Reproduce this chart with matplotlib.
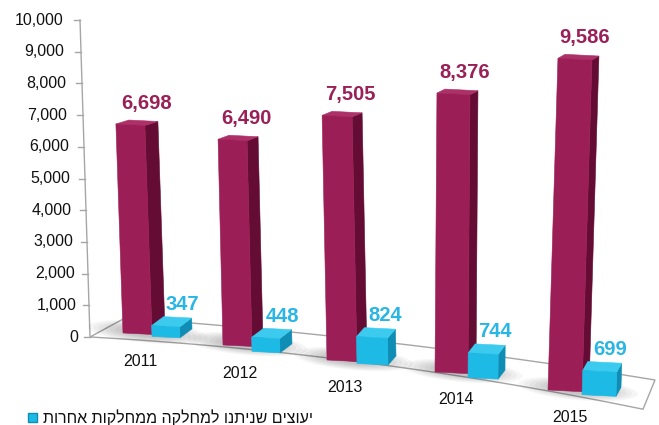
import numpy as np
import matplotlib
matplotlib.use("Agg")
import matplotlib.pyplot as plt
from matplotlib.patches import Polygon, Ellipse

plt.rcParams["font.family"] = ["Liberation Sans", "DejaVu Sans"]

# chart values
years = ["2011", "2012", "2013", "2014", "2015"]
consults_total = [6698, 6490, 7505, 8376, 9586]
consults_other = [347, 448, 824, 744, 699]
y_ticks = [0, 1000, 2000, 3000, 4000, 5000, 6000, 7000, 8000, 9000, 10000]
legend_label = "יעוצים שניתנו למחלקה ממחלקות אחרות"

# pseudo-3D scene layout (pixel space, y grows downwards)
base_x = [123, 223, 327, 435, 548]       # front-bottom-left of tall bar
base_y = [333, 345, 360, 372, 390]
px_per_unit = [0.0312, 0.0317, 0.0326, 0.0333, 0.0346]
lean = [-0.034, -0.024, -0.02, 0.007, 0.03]
tall_w = [29, 29, 30, 33, 34]
tall_dx = [13, 11, 10, 8, 7]
short_w = [28, 28, 31, 30, 34]
short_dx = [12, 12, 8, 7, 5]
short_drop = [2, 5, 2, 4, 3]

MAROON = ("#9b1e56", "#640c34", "#ad3068")
CYAN = ("#1dbae5", "#0f8db4", "#3ccbef")
MAROON_TXT = "#9a2058"
CYAN_TXT = "#2ab6e4"
GRID = "#a6a6a6"


def box(x0, y0, w, h, lean_k, dx, dy, slope=0.05):
    bl = np.array([x0, y0], float)
    br = bl + [w, w * slope]
    tl = bl + [h * lean_k, -h]
    tr = tl + [w, w * slope]
    d = np.array([dx, -dy], float)
    front = [bl, br, tr, tl]
    side = [br, br + d, tr + d, tr]
    top = [tl, tr, tr + d, tl + d]
    return front, side, top


def draw_box(ax, faces, colors):
    front, side, top = faces
    for pts, c in ((side, colors[1]), (top, colors[2]), (front, colors[0])):
        ax.add_patch(Polygon(pts, closed=True, facecolor=c, edgecolor=c,
                             linewidth=0.4, zorder=3))


fig = plt.figure(figsize=(6.59, 4.25), dpi=100)
ax = fig.add_axes([0, 0, 1, 1])
ax.set_xlim(0, 659)
ax.set_ylim(425, 0)
ax.axis("off")

# floor (slightly bowed outline)
xf = np.linspace(90, 643, 60)
front_edge = 337 + 0.0559 * (xf - 90) + 0.0001351 * (xf - 90) ** 2
xb = np.linspace(125, 655, 60)
back_edge = 318 + 0.0698 * (xb - 125) + 0.000089 * (xb - 125) ** 2
floor = np.vstack([np.column_stack([xf, front_edge]),
                   np.column_stack([xb[::-1], back_edge[::-1]])])
ax.add_patch(Polygon(floor, closed=True, facecolor="white", edgecolor=GRID,
                     linewidth=1.0, zorder=1))

# value axis
axis_top = (80, 337 - 10000 * 0.0317)
ax.plot([axis_top[0], 90], [axis_top[1], 337], color=GRID, lw=1.0, zorder=2)
for v in y_ticks:
    t = v / 10000
    yy = 337 - v * 0.0317
    xa = 90 - 10 * t
    ax.plot([xa - 6, xa], [yy, yy], color=GRID, lw=1.0, zorder=2)
    ax.text(63 + 15 * (1 - t), yy, f"{v:,}", ha="right", va="center",
            fontsize=11.5, color="#111111")

for i, year in enumerate(years):
    k = px_per_unit[i]
    # soft floor shadow
    cx = base_x[i] + (tall_w[i] + short_w[i]) / 2 - 4
    for j in range(7):
        ax.add_patch(Ellipse((cx, base_y[i] - 1), 120 - 11 * j, 22 - 2 * j,
                             angle=5, facecolor="#000000", alpha=0.035,
                             linewidth=0, zorder=2))

    h_tall = consults_total[i] * k
    tall = box(base_x[i], base_y[i], tall_w[i], h_tall, lean[i], tall_dx[i], 4)
    draw_box(ax, tall, MAROON)

    x_s = base_x[i] + tall_w[i]
    y_s = base_y[i] + tall_w[i] * 0.05 + short_drop[i]
    h_short = consults_other[i] * k
    short = box(x_s, y_s, short_w[i], h_short, lean[i], short_dx[i], 9)
    draw_box(ax, short, CYAN)

    tl = tall[0][3]
    ax.text(tl[0] + tall_w[i] / 2 + tall_dx[i] + 3, tl[1] - 4 - 17,
            f"{consults_total[i]:,}", ha="center", va="center",
            fontsize=14.5, fontweight="bold", color=MAROON_TXT, zorder=5)
    stl = short[0][3]
    ax.text(stl[0] + short_w[i] / 2 + short_dx[i] + 5, stl[1] - 9 - 12,
            f"{consults_other[i]:,}", ha="center", va="center",
            fontsize=14.5, fontweight="bold", color=CYAN_TXT, zorder=5)

    ax.text(x_s - 12, base_y[i] + 28, year, ha="center", va="center",
            fontsize=11.5, color="#111111")

# legend
ax.add_patch(Polygon([(28, 413), (37, 413), (37, 422), (28, 422)], closed=True,
                     facecolor=CYAN[0], edgecolor=CYAN[1], linewidth=1.0))
ax.text(43, 417.5, legend_label[::-1], ha="left", va="center",
        fontsize=11.5, color="#111111")

fig.savefig("out.png", dpi=100)
